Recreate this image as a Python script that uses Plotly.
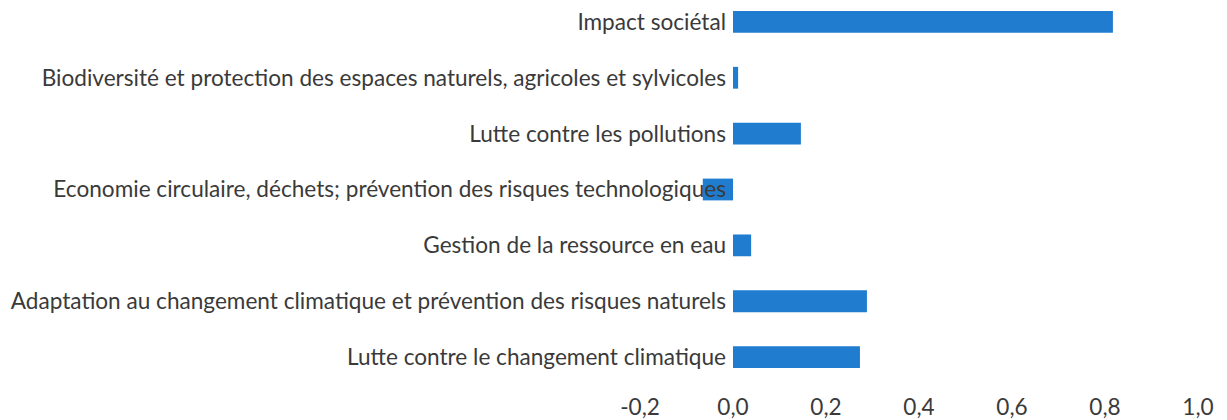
import plotly.graph_objects as go

categories = [
    "Lutte contre le changement climatique",
    "Adaptation au changement climatique et prévention des risques naturels",
    "Gestion de la ressource en eau",
    "Economie circulaire, déchets; prévention des risques technologiques",
    "Lutte contre les pollutions",
    "Biodiversité et protection des espaces naturels, agricoles et sylvicoles",
    "Impact sociétal",
]
values = [0.273, 0.288, 0.039, -0.065, 0.146, 0.011, 0.817]
x_ticks = [-0.2, 0.0, 0.2, 0.4, 0.6, 0.8, 1.0]
x_tick_labels = ["-0,2", "0,0", "0,2", "0,4", "0,6", "0,8", "1,0"]

FONT = "Lato"
TEXT = "#3a3a3a"
FS = 22.6

fig = go.Figure(
    go.Bar(
        y=list(range(len(categories))),
        x=values,
        orientation="h",
        marker=dict(color="#1f7ccf", line=dict(width=0)),
        width=0.39,
        hoverinfo="x+y",
    )
)

xmin, xmax = -0.2, 1.0
fig.update_layout(
    width=1219,
    height=412,
    margin=dict(l=632, r=29, t=0, b=45),
    paper_bgcolor="white",
    plot_bgcolor="white",
    showlegend=False,
    font=dict(family=FONT, size=FS, color=TEXT),
    xaxis=dict(
        range=[xmin, xmax],
        tickvals=x_ticks,
        ticktext=x_tick_labels,
        showgrid=False,
        zeroline=False,
        showline=False,
        ticks="",
        tickfont=dict(family=FONT, size=FS, color=TEXT),
        ticklabelstandoff=16,
        ticklabeloverflow="allow",
    ),
    yaxis=dict(
        range=[-0.32, 6.195],
        tickvals=list(range(len(categories))),
        ticktext=categories,
        anchor="free",
        position=(0 - xmin) / (xmax - xmin),
        showgrid=False,
        zeroline=False,
        showline=False,
        ticks="",
        tickfont=dict(family=FONT, size=FS, color=TEXT),
        ticklabelstandoff=7,
        ticklabeloverflow="allow",
    ),
)

fig.write_html("out.html")
